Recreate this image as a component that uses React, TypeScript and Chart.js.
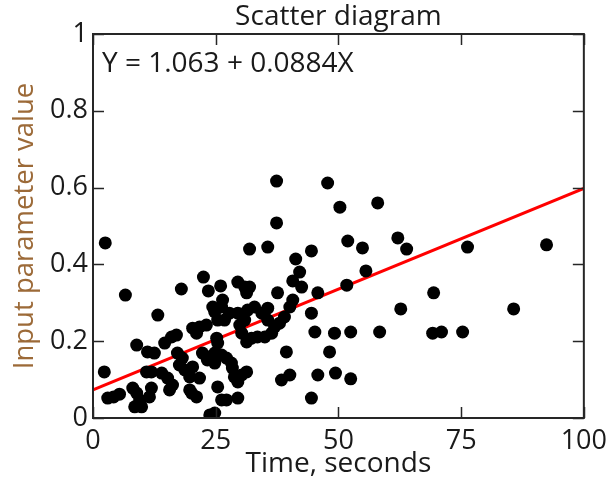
import React, { useEffect, useRef } from "react";
import { Chart, registerables } from "chart.js";

Chart.register(...registerables);

// ---- data ----
const timeSeconds = [
  2.5, 2.3, 3.0, 4.2, 5.4, 6.6, 8.9, 8.1, 8.9, 9.5, 8.5, 9.9, 13.2, 11.1, 12.5, 11.9, 10.9, 11.9, 11.5,
  14.6, 16.0, 17.0, 14.0, 15.2, 16.2, 15.6, 17.2, 18.2, 17.6, 18.7, 19.7, 20.3, 21.7, 19.7, 20.1, 21.1,
  18.0, 20.3, 21.7, 23.1, 21.1, 22.3, 23.3, 23.8, 24.8, 25.4, 26.2, 23.8, 24.8, 24.4, 24.8, 25.4, 22.5,
  23.5, 26.0, 26.2, 26.8, 27.8, 29.5, 31.5, 32.9, 30.9, 29.9, 30.3, 31.3, 32.3, 33.5, 35.0, 36.4, 37.0,
  35.6, 34.4, 25.2, 25.4, 24.8, 26.2, 27.2, 28.2, 28.4, 28.8, 30.3, 31.3, 29.5, 27.2, 29.5, 29.5, 30.9,
  31.9, 31.3, 26.4, 31.9, 35.6, 37.4, 37.4, 37.6, 35.6, 41.3, 42.1, 40.7, 42.5, 40.7, 40.1, 39.0, 38.0,
  44.5, 44.5, 45.2, 49.2, 52.5, 39.4, 48.2, 38.4, 40.1, 45.8, 49.4, 52.5, 44.5, 45.8, 51.7, 47.8, 50.3,
  58.0, 51.9, 54.9, 55.6, 62.1, 63.9, 76.3, 92.4, 69.4, 62.7, 85.7, 69.2, 71.0, 75.3, 58.4,
];
const inputValues = [
  0.456, 0.12, 0.052, 0.055, 0.062, 0.32, 0.19, 0.078, 0.065, 0.047, 0.029, 0.029, 0.268, 0.172, 0.169, 0.12, 0.12, 0.078, 0.055,
  0.195, 0.211, 0.216, 0.117, 0.104, 0.086, 0.073, 0.169, 0.156, 0.138, 0.125, 0.107, 0.133, 0.104, 0.073, 0.065, 0.055,
  0.336, 0.234, 0.237, 0.242, 0.221, 0.169, 0.151, 0.159, 0.143, 0.081, 0.047, 0.008, 0.013, 0.289, 0.276, 0.255, 0.367,
  0.331, 0.344, 0.289, 0.255, 0.273, 0.273, 0.281, 0.289, 0.255, 0.242, 0.221, 0.198, 0.208, 0.211, 0.211, 0.221, 0.237,
  0.255, 0.273, 0.208, 0.195, 0.169, 0.164, 0.156, 0.143, 0.13, 0.107, 0.112, 0.12, 0.094, 0.047, 0.052, 0.354, 0.341,
  0.341, 0.326, 0.307, 0.44, 0.445, 0.617, 0.508, 0.326, 0.286, 0.414, 0.38, 0.357, 0.341, 0.307, 0.289, 0.263, 0.247,
  0.435, 0.273, 0.224, 0.221, 0.224, 0.172, 0.172, 0.099, 0.112, 0.112, 0.117, 0.102, 0.052, 0.326, 0.346, 0.612, 0.549,
  0.56, 0.461, 0.443, 0.383, 0.469, 0.44, 0.445, 0.451, 0.326, 0.284, 0.284, 0.221, 0.224, 0.224, 0.224,
];
const fitLineX = [0, 100];
const fitLineY = [0.073, 0.598];
const xTickValues = [0, 25, 50, 75, 100];
const yTickValues = [0, 0.2, 0.4, 0.6, 0.8, 1];
const titleText = "Scatter diagram";
const equationText = "Y = 1.063 + 0.0884X";
const xTitleText = "Time, seconds";
const yTitleText = "Input parameter value";

const FONT = "'Open Sans', 'DejaVu Sans', sans-serif";
const TEXT = "#1a1a1a";

const framePlugin = {
  id: "frameAndEquation",
  afterDatasetsDraw(chart: any) {
    const { ctx, chartArea } = chart;
    const { left, right, top, bottom } = chartArea;
    const xs = chart.scales.x;
    const ys = chart.scales.y;
    const tl = 11;
    ctx.save();
    ctx.strokeStyle = "#262626";
    ctx.lineWidth = 1.5;
    ctx.beginPath();
    for (const v of xTickValues) {
      const px = Math.round(xs.getPixelForValue(v)) + 0.5;
      ctx.moveTo(px, bottom);
      ctx.lineTo(px, bottom - tl);
      ctx.moveTo(px, top);
      ctx.lineTo(px, top + tl);
    }
    for (const v of yTickValues) {
      const py = Math.round(ys.getPixelForValue(v)) + 0.5;
      ctx.moveTo(left, py);
      ctx.lineTo(left + tl, py);
      ctx.moveTo(right, py);
      ctx.lineTo(right - tl, py);
    }
    ctx.stroke();
    ctx.lineWidth = 2;
    ctx.strokeRect(left, top, right - left, bottom - top);
    ctx.fillStyle = TEXT;
    ctx.font = `28px ${FONT}`;
    ctx.textBaseline = "alphabetic";
    ctx.textAlign = "left";
    ctx.fillText(equationText, left + 9, top + 38);
    ctx.restore();
  },
};

export default function App() {
  const canvasRef = useRef<HTMLCanvasElement | null>(null);

  useEffect(() => {
    const canvas = canvasRef.current;
    if (!canvas) return;
    const points = timeSeconds.map((t, i) => ({ x: t, y: inputValues[i] }));
    const line = fitLineX.map((t, i) => ({ x: t, y: fitLineY[i] }));
    const chart = new Chart(canvas, {
      type: "scatter",
      data: {
        datasets: [
          {
            type: "scatter",
            data: points,
            pointRadius: 6.5,
            pointHoverRadius: 6.5,
            backgroundColor: "#000000",
            borderWidth: 0,
            clip: 0,
          } as any,
          {
            type: "line",
            data: line,
            borderColor: "#ff0000",
            borderWidth: 3,
            pointRadius: 0,
            fill: false,
            showLine: true,
          } as any,
        ],
      },
      options: {
        responsive: false,
        animation: false,
        layout: { padding: { left: 0, right: 30, top: 0, bottom: 0 } },
        plugins: {
          legend: { display: false },
          tooltip: { enabled: false },
          title: {
            display: true,
            text: titleText,
            fullSize: false,
            color: TEXT,
            font: { family: FONT, size: 28, weight: "normal", lineHeight: 34 / 28 },
            padding: { top: 0, bottom: 0 },
          },
        },
        scales: {
          x: {
            type: "linear",
            min: 0,
            max: 100,
            afterFit: (scale: any) => {
              scale.height = 63;
            },
            afterBuildTicks: (scale: any) => {
              scale.ticks = xTickValues.map((v) => ({ value: v }));
            },
            grid: { display: false, drawTicks: false },
            border: { display: false },
            ticks: {
              color: TEXT,
              padding: 7,
              maxRotation: 0,
              font: { family: FONT, size: 27 },
              callback: (v: any) => String(v),
            },
            title: {
              display: true,
              text: xTitleText,
              color: TEXT,
              font: { family: FONT, size: 28 },
              padding: { top: 0, bottom: 0 },
            },
          },
          y: {
            type: "linear",
            min: 0,
            max: 1,
            afterFit: (scale: any) => {
              scale.width = 93;
            },
            afterBuildTicks: (scale: any) => {
              scale.ticks = yTickValues.map((v) => ({ value: v }));
            },
            grid: { display: false, drawTicks: false },
            border: { display: false },
            ticks: {
              color: TEXT,
              padding: 5,
              font: { family: FONT, size: 27 },
              callback: (v: any) => String(Math.round(Number(v) * 10) / 10),
            },
            title: {
              display: true,
              text: yTitleText,
              color: "#9c6a38",
              font: { family: FONT, size: 27.5 },
              padding: { top: 9, bottom: 0 },
            },
          },
        },
      },
      plugins: [framePlugin],
    });
    return () => chart.destroy();
  }, []);

  return (
    <canvas
      ref={canvasRef}
      width={614}
      height={481}
      style={{ position: "fixed", left: 0, top: 0, width: 614, height: 481, display: "block", background: "#ffffff" }}
    />
  );
}
